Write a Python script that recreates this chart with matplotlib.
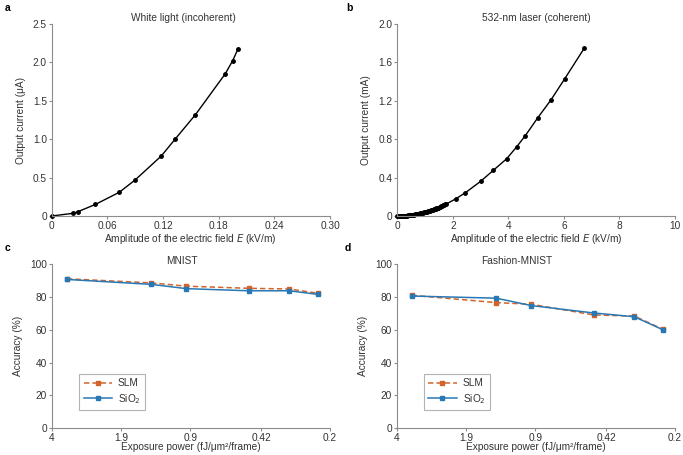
import matplotlib
matplotlib.use("Agg")
import matplotlib.pyplot as plt
from matplotlib.ticker import FixedLocator, NullLocator, FixedFormatter

plt.rcParams['font.family'] = ['Liberation Sans', 'DejaVu Sans']

# ---- data ----
a_x = [0, 0.023, 0.028, 0.047, 0.073, 0.090, 0.118, 0.133, 0.155, 0.187, 0.195, 0.201]
a_y = [0, 0.035, 0.055, 0.15, 0.31, 0.47, 0.78, 1.0, 1.32, 1.85, 2.02, 2.18]

b_x = [0.00, 0.04, 0.08, 0.12, 0.15, 0.19, 0.22, 0.26, 0.29, 0.33, 0.36, 0.40, 0.43,
       0.47, 0.50, 0.54, 0.57, 0.61, 0.64, 0.68, 0.71, 0.75, 0.78, 0.82, 0.85, 0.89,
       0.92, 0.96, 0.99, 1.03, 1.06, 1.10, 1.13, 1.17, 1.20, 1.24, 1.27, 1.31, 1.34,
       1.38, 1.41, 1.45, 1.48, 1.52, 1.55, 1.59, 1.62, 1.66, 1.69, 1.73, 1.76,
       2.11, 2.44, 3.00, 3.46, 3.94, 4.30, 4.61, 5.06, 5.53, 6.03, 6.73]
b_y = [0, 0.0001, 0.0003, 0.0006, 0.001, 0.0014, 0.002, 0.0027, 0.0034, 0.0044, 0.0052,
       0.0064, 0.0074, 0.0088, 0.010, 0.0117, 0.013, 0.0149, 0.0164, 0.0185, 0.020,
       0.0225, 0.0243, 0.0269, 0.029, 0.0317, 0.034, 0.0369, 0.039, 0.0424, 0.045,
       0.0484, 0.051, 0.0548, 0.058, 0.0615, 0.0645, 0.0686, 0.072, 0.0762, 0.0795,
       0.0841, 0.0876, 0.0924, 0.096, 0.101, 0.105, 0.110, 0.114, 0.120, 0.124,
       0.18, 0.24, 0.361, 0.476, 0.597, 0.721, 0.837, 1.024, 1.208, 1.43, 1.747]

power = [3.4, 1.37, 0.94, 0.48, 0.31, 0.228]
power_ticks = [4, 1.9, 0.9, 0.42, 0.2]
power_labels = ["4", "1.9", "0.9", "0.42", "0.2"]

c_slm = [91.0, 88.5, 86.5, 85.2, 84.8, 82.2]
c_sio2 = [90.6, 87.6, 85.0, 83.7, 83.7, 81.5]
d_slm = [81.0, 76.5, 75.5, 69.0, 68.3, 60.3]
d_sio2 = [80.5, 79.2, 74.7, 70.2, 67.9, 60.0]

ORANGE = '#D2632B'
BLUE = '#2878B5'
SPINE = '#8c8c8c'
TXT = '#333333'
FS = 7.3

W, H = 683, 455
fig = plt.figure(figsize=(W / 100, H / 100), dpi=100)


def axes_px(l, t, r, b):
    return fig.add_axes([l / W, 1 - b / H, (r - l) / W, (b - t) / H])


def style(ax):
    for s in ['top', 'right']:
        ax.spines[s].set_visible(False)
    for s in ['left', 'bottom']:
        ax.spines[s].set_color(SPINE)
        ax.spines[s].set_linewidth(0.8)
    ax.tick_params(axis='both', direction='out', length=2.5, width=0.8, color=SPINE,
                   labelsize=FS, labelcolor=TXT, pad=1.0)


axA = axes_px(51.7, 24, 330, 216)
axB = axes_px(397.3, 24, 675, 216)
axC = axes_px(52, 264, 330, 428.3)
axD = axes_px(396.7, 264, 675, 428.3)

for ax in (axA, axB, axC, axD):
    style(ax)

# a
axA.plot(a_x, a_y, color='black', lw=1.0, marker='o', ms=2.5, clip_on=False)
axA.set_xlim(0, 0.30)
axA.set_ylim(0, 2.5)
axA.set_xticks([0, 0.06, 0.12, 0.18, 0.24, 0.30])
axA.set_xticklabels(["0", "0.06", "0.12", "0.18", "0.24", "0.30"])
axA.set_yticks([0, 0.5, 1.0, 1.5, 2.0, 2.5])
axA.set_yticklabels(["0", "0.5", "1.0", "1.5", "2.0", "2.5"])
axA.set_ylabel("Output current (μA)", fontsize=FS, color=TXT, labelpad=5)
axA.set_xlabel("Amplitude of the electric field $\\it{E}$ (kV/m)", fontsize=FS, color=TXT, labelpad=0.5)
axA.text(0.472, 1.03, "White light (incoherent)", transform=axA.transAxes,
         ha='center', va='center', fontsize=FS, color=TXT)

# b
axB.plot(b_x, b_y, color='black', lw=1.0, marker='o', ms=2.5, clip_on=False)
axB.set_xlim(0, 10)
axB.set_ylim(0, 2.0)
axB.set_xticks([0, 2, 4, 6, 8, 10])
axB.set_yticks([0, 0.4, 0.8, 1.2, 1.6, 2.0])
axB.set_yticklabels(["0", "0.4", "0.8", "1.2", "1.6", "2.0"])
axB.set_ylabel("Output current (mA)", fontsize=FS, color=TXT, labelpad=5)
axB.set_xlabel("Amplitude of the electric field $\\it{E}$ (kV/m)", fontsize=FS, color=TXT, labelpad=0.5)
axB.text(0.5, 1.03, "532-nm laser (coherent)", transform=axB.transAxes,
         ha='center', va='center', fontsize=FS, color=TXT)

# c, d
for ax, slm, sio2, title, tx, xc in ((axC, c_slm, c_sio2, "MNIST", 0.467, 191),
                                      (axD, d_slm, d_sio2, "Fashion-MNIST", 0.431, 536)):
    ax.plot(power, slm, color=ORANGE, lw=1.1, ls=(0, (3.5, 2)), marker='s', ms=3,
            label='SLM')
    ax.plot(power, sio2, color=BLUE, lw=1.1, marker='s', ms=3, label='SiO$_2$')
    ax.set_xscale('log')
    ax.set_xlim(4, 0.2)
    ax.xaxis.set_major_locator(FixedLocator(power_ticks))
    ax.xaxis.set_major_formatter(FixedFormatter(power_labels))
    ax.xaxis.set_minor_locator(NullLocator())
    ax.set_ylim(0, 100)
    ax.set_yticks([0, 20, 40, 60, 80, 100])
    ax.set_ylabel("Accuracy (%)", fontsize=FS, color=TXT, labelpad=5)
    fig.text(xc / W, 1 - 447.5 / H, "Exposure power (fJ/μm²/frame)", fontsize=FS,
             color=TXT, ha='center', va='center')
    ax.text(tx, 1.02, title, transform=ax.transAxes, ha='center', va='center',
            fontsize=FS, color=TXT)
    leg = ax.legend(loc='lower left', bbox_to_anchor=(0.097, 0.111), fontsize=FS,
                    frameon=True, fancybox=False, edgecolor='#a0a0a0',
                    handlelength=2.8, borderpad=0.45, labelspacing=0.35,
                    handletextpad=0.6, borderaxespad=0)
    leg.get_frame().set_linewidth(0.8)
    for t in leg.get_texts():
        t.set_color(TXT)

# panel letters
for lab, x, y in (("a", 5, 8), ("b", 346, 8), ("c", 5, 248), ("d", 345, 248)):
    fig.text(x / W, 1 - y / H, lab, fontsize=7.5, fontweight='bold', ha='left',
             va='center', color='black')

fig.savefig("out.png", dpi=100)
